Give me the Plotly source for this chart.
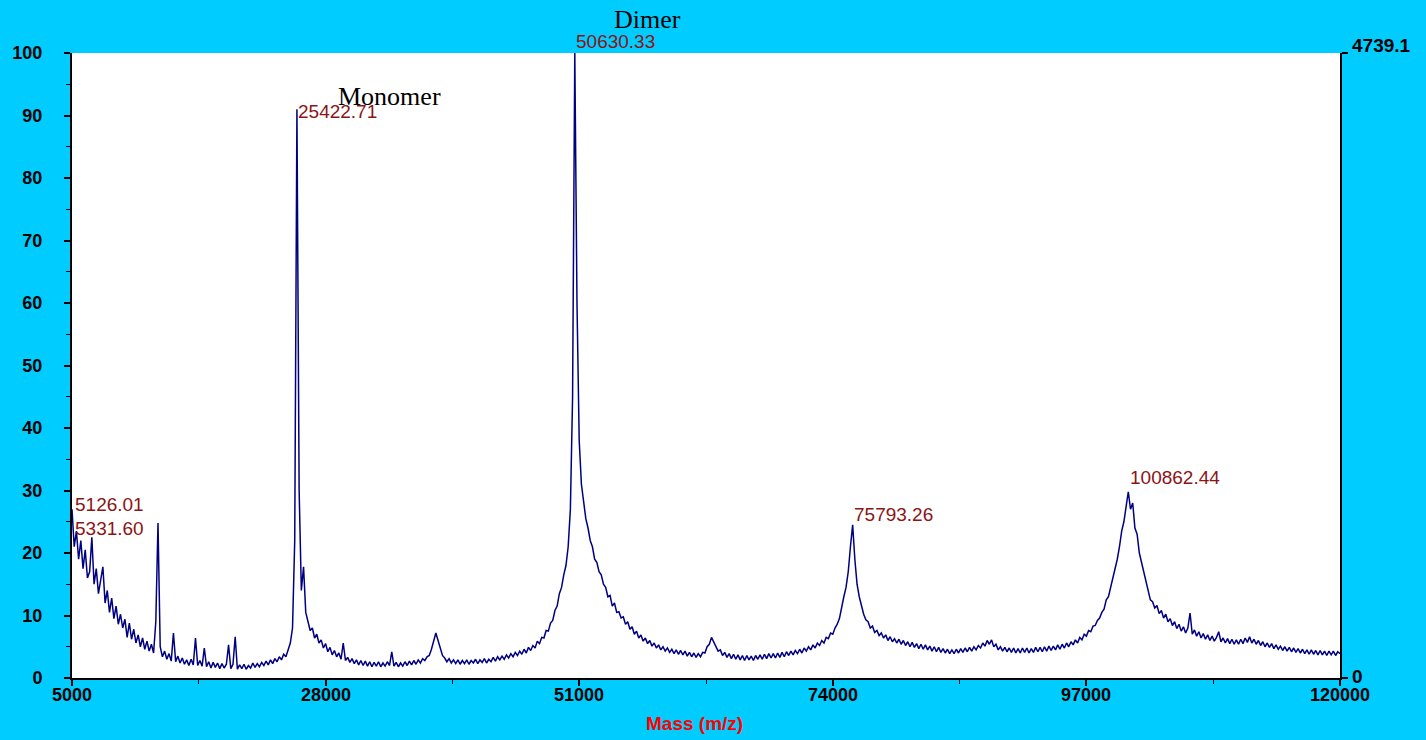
import numpy as np
import plotly.graph_objects as go

# ---- data ----
mass_start = 5000
mass_step = 200
intensity = [
    # 5000 - 9800
    27, 21, 23.5, 19, 22, 17.5, 20.5, 16, 17, 22.5, 15, 17.5, 13.5, 15.5, 17.8, 12, 14, 10.5, 12.8, 9.5, 11.5, 8.6, 10.2, 8, 9.4,
    # 10000 - 14800
    6.5, 8.8, 6.2, 7.8, 5.6, 6.9, 5.0, 6.4, 4.6, 5.9, 4.3, 5.4, 4.0, 9, 24.8, 5, 3.4, 4.3, 3.0, 3.9, 2.7, 7.2, 2.6, 3.5, 2.4,
    # 15000 - 19800
    3.2, 2.2, 2.9, 2.0, 3.0, 2.1, 6.4, 2.0, 2.8, 1.9, 4.8, 1.8, 2.6, 1.6, 2.5, 1.7, 2.4, 1.5, 2.3, 1.6, 2.2, 5.3, 1.5, 2.2, 6.6,
    # 20000 - 24800
    1.4, 2.1, 1.5, 2.2, 1.4, 2.0, 1.6, 2.4, 1.7, 2.3, 1.8, 2.5, 2.0, 2.7, 2.1, 2.9, 2.3, 3.1, 2.6, 3.4, 2.9, 3.8, 3.4, 4.4, 5.6,
    # 25000 - 29800
    8, 22, 91, 30, 14, 17.8, 10.5, 9.2, 7.6, 8.0, 6.4, 7.0, 5.6, 6.1, 4.8, 5.5, 4.2, 4.9, 3.7, 4.4, 3.4, 4.0, 3.0, 5.6, 2.8,
    # 30000 - 34800
    3.3, 2.5, 3.1, 2.3, 2.9, 2.1, 2.8, 2.0, 2.7, 1.9, 2.6, 1.8, 2.5, 1.9, 2.6, 1.8, 2.4, 1.9, 2.6, 2.0, 4.2, 1.9, 2.5, 1.8, 2.4,
    # 35000 - 39800
    1.9, 2.6, 2.0, 2.7, 2.1, 2.8, 2.2, 2.9, 2.4, 3.1, 2.8, 3.4, 3.6, 4.6, 5.8, 7.2, 6.0, 4.8, 3.6, 3.2, 2.6, 3.1, 2.4, 2.9, 2.3,
    # 40000 - 44800
    2.9, 2.2, 2.8, 2.3, 2.9, 2.2, 2.8, 2.4, 3.0, 2.3, 2.9, 2.5, 3.1, 2.4, 3.0, 2.6, 3.3, 2.7, 3.4, 2.9, 3.5, 3.0, 3.7, 3.2, 3.9,
    # 45000 - 49800
    3.4, 4.1, 3.6, 4.3, 3.8, 4.6, 4.0, 4.9, 4.4, 5.2, 4.8, 5.9, 5.5, 6.5, 6.4, 7.6, 7.5, 8.8, 9.2, 10.8, 11.5, 13.5, 14.5, 16.5, 18,
    # 50000 - 54800
    21, 27, 45, 100, 60, 38, 31, 28, 25.5, 24, 22, 21, 19, 18.5, 17, 16.5, 15, 14.5, 13, 13.2, 11.5, 12, 10.5, 10.6, 9.6,
    # 55000 - 59800
    9.8, 8.6, 9.0, 7.8, 8.2, 7.0, 7.5, 6.4, 6.9, 5.9, 6.4, 5.5, 6.0, 5.1, 5.6, 4.8, 5.3, 4.5, 5.0, 4.3, 4.8, 4.1, 4.6, 3.9, 4.5,
    # 60000 - 64800
    3.8, 4.4, 3.7, 4.3, 3.5, 4.1, 3.4, 4.0, 3.3, 3.9, 3.4, 4.1, 4.0, 5.0, 5.4, 6.5, 5.8, 5.2, 4.3, 4.5, 3.6, 4.1, 3.3, 3.9, 3.1,
    # 65000 - 69800
    3.8, 3.0, 3.7, 2.9, 3.6, 2.8, 3.6, 2.9, 3.5, 2.8, 3.6, 3.0, 3.7, 3.0, 3.8, 3.1, 3.9, 3.2, 3.9, 3.2, 4.0, 3.3, 4.1, 3.4, 4.2,
    # 70000 - 74800
    3.6, 4.3, 3.7, 4.4, 3.9, 4.6, 4.0, 4.8, 4.3, 5.0, 4.5, 5.3, 4.8, 5.6, 5.2, 6.0, 5.6, 6.5, 6.3, 7.2, 7.0, 8.0, 8.6, 9.5, 11.5,
    # 75000 - 79800
    13, 14.5, 17, 21, 24.5, 19, 15, 13, 11.5, 10.2, 9.3, 9.0, 8.0, 8.3, 7.3, 7.6, 6.8, 7.2, 6.4, 6.9, 6.0, 6.6, 5.8, 6.3, 5.6,
    # 80000 - 84800
    6.2, 5.4, 6.0, 5.2, 5.8, 5.0, 5.7, 4.9, 5.5, 4.7, 5.4, 4.6, 5.3, 4.5, 5.1, 4.3, 5.0, 4.2, 4.9, 4.1, 4.7, 4.0, 4.6, 3.9, 4.5,
    # 85000 - 89800
    3.9, 4.6, 4.0, 4.7, 4.1, 4.8, 4.2, 4.9, 4.3, 5.0, 4.5, 5.2, 4.8, 5.6, 5.1, 6.0, 5.4, 6.1, 5.0, 5.4, 4.5, 5.0, 4.3, 4.9, 4.2,
    # 90000 - 94800
    4.8, 4.1, 4.8, 4.0, 4.7, 4.0, 4.8, 4.1, 4.8, 4.0, 4.7, 4.1, 4.9, 4.2, 4.9, 4.2, 5.0, 4.3, 5.1, 4.4, 5.1, 4.5, 5.3, 4.6, 5.4,
    # 95000 - 99800
    4.8, 5.6, 5.0, 5.8, 5.3, 6.1, 5.6, 6.5, 6.1, 7.0, 6.7, 7.6, 7.4, 8.3, 8.4, 9.2, 9.6, 10.5, 11, 12.5, 13, 14.5, 15.5, 17.5, 19,
    # 100000 - 104800
    21, 23.5, 25, 27.5, 29.8, 27, 28, 24, 23, 20, 18.5, 16.5, 15, 13.5, 12.5, 12.2, 11.2, 11.6, 10.3, 10.8, 9.6, 10.2, 9.0, 9.5, 8.4,
    # 105000 - 109800
    9.0, 7.9, 8.6, 7.5, 8.2, 7.2, 8.0, 10.4, 7.0, 7.7, 6.7, 7.4, 6.4, 7.1, 6.2, 6.9, 6.0, 6.7, 5.9, 6.5, 7.4, 5.8, 6.4, 5.6, 6.3,
    # 110000 - 114800
    5.5, 6.2, 5.4, 6.1, 5.4, 6.2, 5.5, 6.4, 5.7, 6.6, 5.6, 6.2, 5.4, 6.0, 5.2, 5.8, 5.0, 5.6, 4.9, 5.5, 4.7, 5.3, 4.6, 5.1, 4.4,
    # 115000 - 119800
    5.0, 4.3, 4.9, 4.2, 4.8, 4.1, 4.7, 4.0, 4.6, 3.9, 4.5, 3.8, 4.5, 3.8, 4.4, 3.7, 4.4, 3.7, 4.3, 3.6, 4.3, 3.7, 4.3, 3.6, 4.2,
    # 120000
    3.9,
]
mass = mass_start + mass_step * np.arange(len(intensity))

x_ticks = [5000, 28000, 51000, 74000, 97000, 120000]
x_minor = [16500, 39500, 62500, 85500, 108500]
y_ticks = list(range(0, 101, 10))
right_ticks = [0, 100]
right_labels = ["0", "4739.1"]

peak_labels = ["5126.01", "5331.60", "25422.71", "50630.33", "75793.26", "100862.44"]
peak_x = [5150, 5150, 25422.71, 50630.33, 75793.26, 100862.44]
peak_y = [27.8, 24.0, 90.7, 101.8, 26.2, 32.0]

name_labels = ["Monomer", "Dimer"]
name_x = [33840, 57150]
name_y = [93.0, 105.3]

BG = "#00CCFF"
LINE = "#000080"
PEAK = "#8B1414"


def paper_y(v):
    # data value -> paper coordinate (0..100 spans the plot area)
    return v / 100.0


fig = go.Figure()
fig.add_trace(go.Scatter(x=mass, y=intensity, mode="lines",
                         line=dict(color=LINE, width=1.5), hoverinfo="x+y",
                         showlegend=False))
fig.add_trace(go.Scatter(x=[mass[0]], y=[None], yaxis="y2", mode="lines",
                         showlegend=False, hoverinfo="skip"))

annotations = []
for t, xv, yv in zip(peak_labels, peak_x, peak_y):
    annotations.append(dict(x=xv, y=paper_y(yv), xref="x", yref="paper", text=t, showarrow=False,
                            xanchor="left", yanchor="middle", borderpad=0,
                            font=dict(family="Liberation Sans, Arial", size=19, color=PEAK)))
for t, xv, yv in zip(name_labels, name_x, name_y):
    annotations.append(dict(x=xv, y=paper_y(yv), xref="x", yref="paper", text=t, showarrow=False,
                            xanchor="center", yanchor="middle",
                            font=dict(family="Liberation Serif, Times New Roman", size=26, color="black")))
# x tick labels (placed closer to the axis than plotly's default)
for v in x_ticks:
    annotations.append(dict(x=v, y=-17 / 625, xref="x", yref="paper", text=f"<b>{v}</b>",
                            showarrow=False, xanchor="center", yanchor="middle",
                            font=dict(family="Liberation Sans, Arial", size=18, color="black")))
# right-hand scale labels
annotations.append(dict(x=1, y=paper_y(right_ticks[1]) + 7 / 625, xref="paper", yref="paper",
                        text=f"<b>{right_labels[1]}</b>", showarrow=False, xanchor="left",
                        yanchor="middle", xshift=10,
                        font=dict(family="Liberation Sans, Arial", size=19, color="black")))
annotations.append(dict(x=1, y=paper_y(right_ticks[0]) + 2 / 625, xref="paper", yref="paper",
                        text=f"<b>{right_labels[0]}</b>", showarrow=False, xanchor="left",
                        yanchor="middle", xshift=10,
                        font=dict(family="Liberation Sans, Arial", size=19, color="black")))
annotations.append(dict(x=(694 - 72) / 1268, y=(678 - 724) / 625, xref="paper", yref="paper",
                        text="<b>Mass (m/z)</b>", showarrow=False, xanchor="center", yanchor="middle",
                        font=dict(family="Liberation Sans, Arial", size=19, color="#FF0000")))

tickfont = dict(family="Liberation Sans, Arial", size=18, color="black", weight="bold")

fig.update_layout(
    width=1426, height=740,
    paper_bgcolor=BG, plot_bgcolor="white",
    margin=dict(l=72, r=86, t=53, b=62),
    showlegend=False,
    annotations=annotations,
    xaxis=dict(range=[5000, 120000], tickmode="array", tickvals=x_ticks,
               showticklabels=False,
               showgrid=False, zeroline=False, showline=True, linecolor="black", linewidth=2,
               ticks="outside", ticklen=6, tickwidth=1.5, tickcolor="black",
               minor=dict(tickmode="array", tickvals=x_minor, ticks="outside", ticklen=4,
                          tickcolor="black", tickwidth=1)),
    yaxis=dict(range=[0, 100], tickmode="array", tickvals=y_ticks,
               showgrid=False, zeroline=False, showline=True, linecolor="black", linewidth=2,
               ticks="outside", ticklen=6, tickwidth=1.5, tickcolor="black",
               ticklabelstandoff=18,
               minor=dict(dtick=5, ticks="outside", ticklen=4, tickcolor="black", tickwidth=1),
               tickfont=tickfont),
    yaxis2=dict(range=[0, 100], overlaying="y", side="right", anchor="x",
                tickmode="array", tickvals=right_ticks, showticklabels=False,
                showgrid=False, zeroline=False, showline=True, linecolor="black", linewidth=2,
                ticks="outside", ticklen=6, tickwidth=1.5, tickcolor="black"),
)

fig.write_html("out.html", config={"displayModeBar": False},
               post_script="document.body.style.margin='0';document.body.style.background='#00CCFF';")
